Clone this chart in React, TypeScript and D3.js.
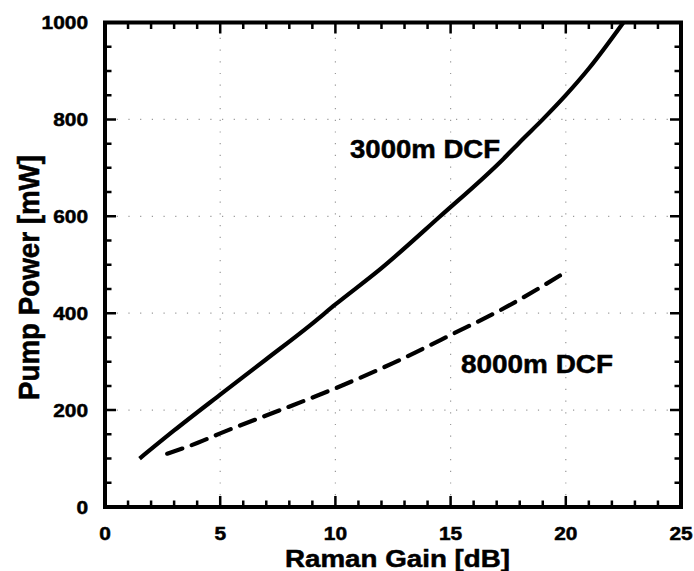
import React from "react";
import * as d3 from "d3";

// Pump power needed for a given Raman gain, for two lengths of dispersion-compensating fibre
const gain3000 = [1.5, 3, 5, 7, 8.9, 10, 12, 14.5, 17.3, 18, 19, 20, 21, 22.5];
const power3000 = [100, 158, 232, 305, 375, 418, 493, 598, 719, 753, 800, 850, 905, 1000];

const gain8000 = [2.7, 4, 5, 7.5, 10, 12.5, 15, 17.5, 20];
const power8000 = [110, 132, 152, 198, 245, 297, 355, 415, 485];

const xTicks = [0, 5, 10, 15, 20, 25];
const yTicks = [0, 200, 400, 600, 800, 1000];
const xMinor = d3.range(0, 26, 1);
const yMinor = d3.range(0, 1001, 50);
const gridX = [5, 10, 15, 20];
const gridY = [200, 400, 600, 800];

const W = 694;
const H = 571;
const left = 105;
const right = 681;
const top = 22.5;
const bottom = 507;

const FONT = "'Liberation Sans', Arial, Helvetica, sans-serif";
const SX = 1.16; // wide letterforms

export default function App() {
  const x = d3.scaleLinear().domain([0, 25]).range([left, right]);
  const y = d3.scaleLinear().domain([0, 1000]).range([bottom, top]);

  const line = d3
    .line<[number, number]>()
    .x((d) => x(d[0]))
    .y((d) => y(d[1]))
    .curve(d3.curveMonotoneX);

  const solid = line(gain3000.map((g, i) => [g, power3000[i]] as [number, number])) || "";
  const dashed = line(gain8000.map((g, i) => [g, power8000[i]] as [number, number])) || "";

  // inward tick marks on all four sides, as one path
  let ticks = "";
  xMinor.forEach((v) => {
    const len = v % 5 === 0 ? 11 : 6.5;
    const px = x(v);
    ticks += `M${px},${bottom}V${bottom - len}M${px},${top}V${top + len}`;
  });
  yMinor.forEach((v) => {
    const len = v % 200 === 0 ? 11 : 6.5;
    const py = y(v);
    ticks += `M${left},${py}H${left + len}M${right},${py}H${right - len}`;
  });

  return (
    <svg
      width={W}
      height={H}
      style={{ position: "absolute", left: 0, top: 0, background: "#fff" }}
      fontFamily={FONT}
      fontWeight="bold"
    >
      <rect width={W} height={H} fill="#fff" />

      {/* dotted grid */}
      <g stroke="#9a9a9a" strokeWidth={1.2} strokeDasharray="1.2 10.5">
        {gridX.map((v) => (
          <line key={"gx" + v} x1={x(v)} x2={x(v)} y1={bottom} y2={top} />
        ))}
        {gridY.map((v) => (
          <line key={"gy" + v} x1={left} x2={right} y1={y(v)} y2={y(v)} />
        ))}
      </g>

      {/* curves */}
      <path d={solid} fill="none" stroke="#000" strokeWidth={4.2} strokeLinejoin="round" />
      <path
        d={dashed}
        fill="none"
        stroke="#000"
        strokeWidth={4.2}
        strokeDasharray="16 10"
        strokeLinecap="round"
      />

      <path d={ticks} fill="none" stroke="#000" strokeWidth={2.5} />

      {/* frame */}
      <rect
        x={left}
        y={top}
        width={right - left}
        height={bottom - top}
        fill="none"
        stroke="#000"
        strokeWidth={4}
      />

      {/* tick labels */}
      <g fontSize={18} fill="#000" stroke="#000" strokeWidth={0.5}>
        {xTicks.map((v) => (
          <text
            key={"xl" + v}
            transform={`translate(${x(v)},${539.5}) scale(${SX},1)`}
            textAnchor="middle"
          >
            {v}
          </text>
        ))}
        {yTicks.map((v) => (
          <text
            key={"yl" + v}
            transform={`translate(${88},${y(v) + 6.5}) scale(${SX},1)`}
            textAnchor="end"
          >
            {v}
          </text>
        ))}
      </g>

      <g fill="#000" stroke="#000" strokeWidth={0.5}>
        {/* axis titles */}
        <text
          x={397.5}
          y={567}
          fontSize={24}
          textAnchor="middle"
          textLength={225}
          lengthAdjust="spacingAndGlyphs"
        >
          Raman Gain [dB]
        </text>
        <text
          transform={`translate(38.5,277.5) scale(1.15,1) rotate(-90)`}
          fontSize={26}
          textAnchor="middle"
          textLength={245}
          lengthAdjust="spacingAndGlyphs"
        >
          Pump Power [mW]
        </text>

        {/* curve labels */}
        <text x={350} y={158} fontSize={26} textLength={150} lengthAdjust="spacingAndGlyphs">
          3000m DCF
        </text>
        <text x={461} y={373} fontSize={26} textLength={152} lengthAdjust="spacingAndGlyphs">
          8000m DCF
        </text>
      </g>
    </svg>
  );
}
